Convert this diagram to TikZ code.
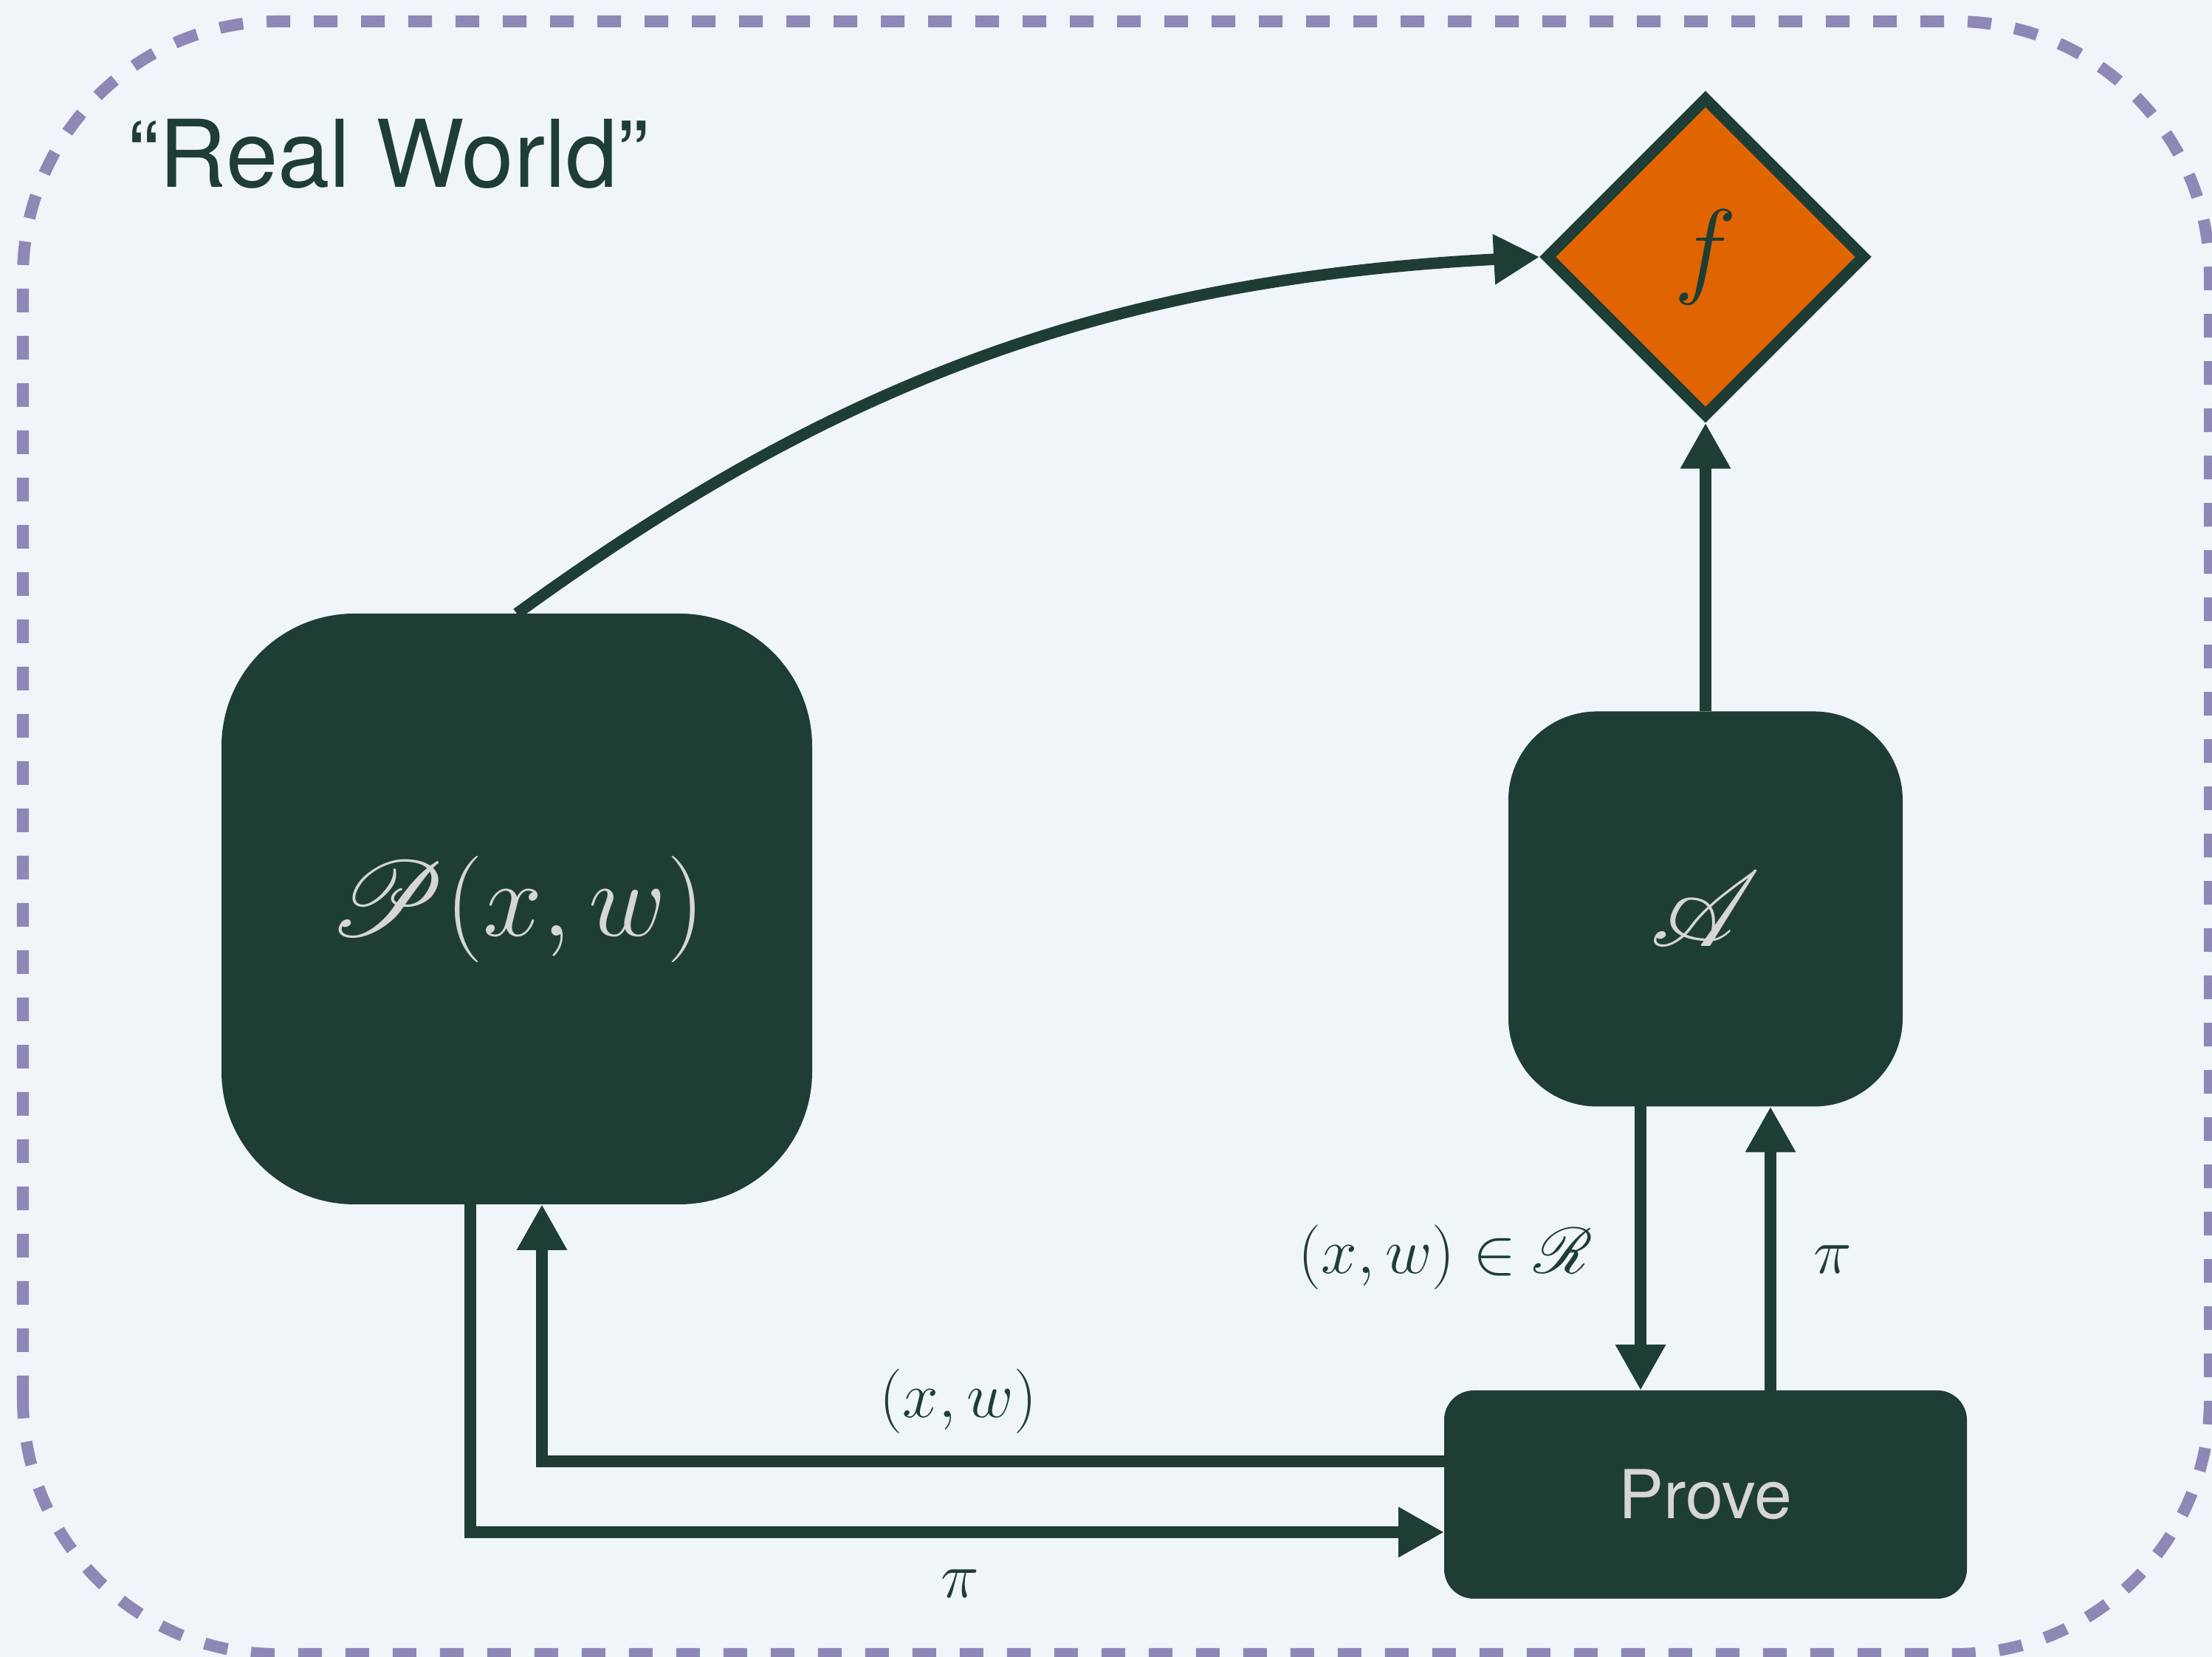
\documentclass[tikz,border=0pt]{standalone}
\usepackage{amsmath,amssymb}
\usepackage{mathrsfs}
\usepackage{graphicx}
\usepackage{fontspec}
\setsansfont{TeX Gyre Heros}
\usetikzlibrary{arrows.meta,shapes.geometric}
\definecolor{bgcol}{RGB}{239,245,248}
\definecolor{ink}{RGB}{30,61,53}
\definecolor{dashcol}{RGB}{142,136,183}
\definecolor{fcol}{RGB}{224,101,2}
\definecolor{pale}{RGB}{214,214,214}

\begin{document}
\begin{tikzpicture}[>={Triangle[length=0.62cm,width=0.64cm]},line width=0.155cm,draw=ink,
    box/.style={fill=ink,text=pale,inner sep=0pt,outer sep=0pt},
    big/.style={font=\fontsize{24}{29}\selectfont},
    lab/.style={text=ink,font=\fontsize{24}{29}\selectfont,inner sep=0pt}]
    \path[use as bounding box,fill=bgcol] (0,0) rectangle (29.96,22.44);
    \draw[dashcol,line width=0.16cm,dash pattern=on 0.32cm off 0.32cm,rounded corners=3.45cm] (0.31,0.04) rectangle (29.93,22.15);
    \node[anchor=base west,inner sep=0pt,text=ink,font=\sffamily\fontsize{36}{43}\selectfont] (title) at (1.66,19.90) {“Real World”};
    \node[box,big,rounded corners=1.8cm,minimum width=8cm,minimum height=8cm] (P) at (7,10.13) {\scalebox{1.65}{$\mathscr{P}(x,w)$}};
    \node[box,big,rounded corners=1.2cm,minimum width=5.34cm,minimum height=5.35cm] (A) at (23.1,10.13) {\scalebox{1.65}{$\mathscr{A}$}};
    \node[box,font=\sffamily\fontsize{26}{31}\selectfont,rounded corners=0.4cm,minimum width=7.08cm,minimum height=2.82cm] (prove) at (23.1,2.2) {Prove};
    \node[diamond,draw=ink,fill=fcol,text=ink,big,inner sep=0pt,minimum width=4.34cm,minimum height=4.34cm] (f) at (23.1,18.96) {\scalebox{1.65}{$f$}};
    \draw[->] (P.north) .. controls +(36:5.2) and +(183:6) .. (f.west);
    \draw[->] (A.north) -- (f.south);
    \draw[->] ([xshift=-0.88cm]A.south) -- ([xshift=-0.88cm]prove.north);
    \draw[->] ([xshift=0.88cm]prove.north) -- ([xshift=0.88cm]A.south);
    \draw[->] ([xshift=-0.63cm]P.south) |- ([yshift=-0.51cm]prove.west);
    \draw[->] ([yshift=0.45cm]prove.west) -| ([xshift=0.34cm]P.south);
    \node[lab] (rel) at (19.58,5.41) {$(x,w)\in\mathscr{R}$};
    \node[lab] (piA) at (24.82,5.38) {$\pi$};
    \node[lab] (xw) at (12.98,3.46) {$(x,w)$};
    \node[lab] (piP) at (13.0,0.99) {$\pi$};
\end{tikzpicture}
\end{document}
